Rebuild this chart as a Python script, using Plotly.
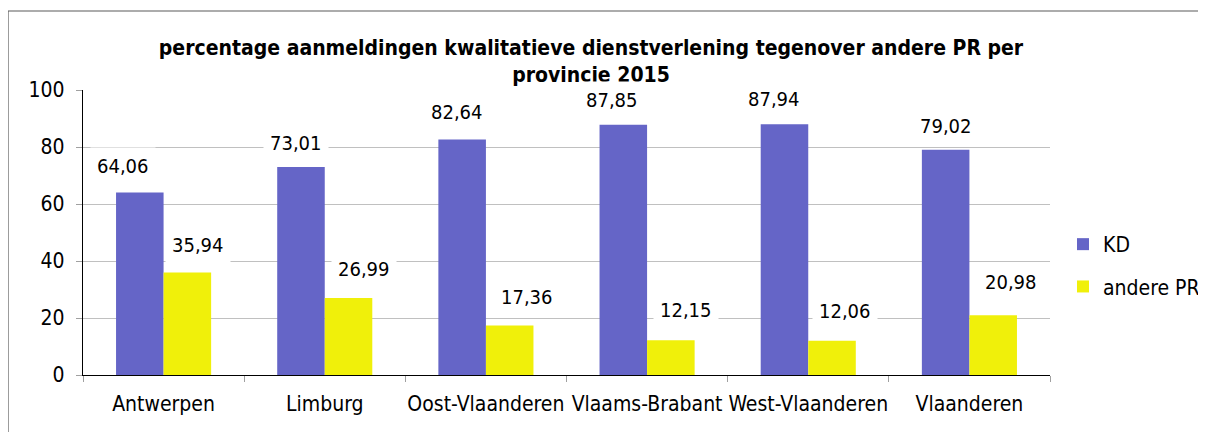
import plotly.graph_objects as go

categories = ["Antwerpen", "Limburg", "Oost-Vlaanderen", "Vlaams-Brabant", "West-Vlaanderen", "Vlaanderen"]
kd_values = [64.06, 73.01, 82.64, 87.85, 87.94, 79.02]
andere_values = [35.94, 26.99, 17.36, 12.15, 12.06, 20.98]
series_names = ["KD", "andere PR"]
y_ticks = [0, 20, 40, 60, 80, 100]
title_text = "percentage aanmeldingen kwalitatieve dienstverlening tegenover andere PR per<br>provincie 2015"

# label placement (pixel offsets from the bar top centre) - style only
kd_label_dx = [-17, -5, -5, -11, -11, 0]
kd_label_dy = [26, 24, 27, 25, 25, 24]
pr_label_dx = [11, 16, 17, 15, 13, 18]
pr_label_dy = [28, 29, 29, 30, 30, 33]
BAR_HALF = 23.7

FONT = "Tahoma, 'DejaVu Sans Condensed', 'Noto Sans', sans-serif"
BLUE = "#6565C7"
YELLOW = "#F0F00A"

# page is rendered with an 8px body margin
ML, MR, MT, MB = 75, 164, 82, 65
PW, PH = 1206 - ML - MR, 432 - MT - MB


def fmt(v):
    return f"{v:.2f}".replace(".", ",")


fig = go.Figure()
fig.add_trace(go.Bar(x=categories, y=kd_values, name=series_names[0],
                     marker=dict(color=BLUE, line=dict(width=0)), legendgroup="a"))
fig.add_trace(go.Bar(x=categories, y=andere_values, name=series_names[1],
                     marker=dict(color=YELLOW, line=dict(width=0)), legendgroup="b"))

annotations = []
for c, v, dx, dy in zip(categories, kd_values, kd_label_dx, kd_label_dy):
    annotations.append(dict(x=c, y=v, xref="x", yref="y", text=fmt(v), showarrow=False,
                            xshift=-BAR_HALF + dx, yshift=dy, yanchor="middle",
                            font=dict(family=FONT, size=20, color="black"),
                            bgcolor="white", borderpad=6))
for c, v, dx, dy in zip(categories, andere_values, pr_label_dx, pr_label_dy):
    annotations.append(dict(x=c, y=v, xref="x", yref="y", text=fmt(v), showarrow=False,
                            xshift=BAR_HALF + dx, yshift=dy, yanchor="middle",
                            font=dict(family=FONT, size=20, color="black"),
                            bgcolor="white", borderpad=6))

fig.update_layout(
    width=1206, height=432,
    margin=dict(l=ML, r=MR, t=MT, b=MB, autoexpand=False),
    paper_bgcolor="white", plot_bgcolor="white",
    barmode="group", bargap=0.41, bargroupgap=0,
    font=dict(family=FONT, size=21, color="black"),
    title=dict(text=title_text, x=583 / 1206, xanchor="center", xref="container",
               y=1 - 47 / 432, yanchor="middle", yref="container",
               font=dict(family=FONT, size=21, color="black", weight="bold")),
    showlegend=True,
    legend=dict(x=1055 / 1206, xref="container", xanchor="left",
                y=1 - 216 / 432, yref="container", yanchor="top",
                traceorder="grouped", tracegroupgap=12,
                font=dict(family=FONT, size=21, color="black"),
                bgcolor="rgba(0,0,0,0)", itemclick=False),
    annotations=annotations,
    shapes=[dict(type="rect", xref="paper", yref="paper",
                 x0=(0 - ML) / PW, x1=1.4, y0=-0.5, y1=(PH + MT - 3) / PH,
                 line=dict(color="#5a5a5a", width=1.2), fillcolor="rgba(0,0,0,0)",
                 layer="below")],
)

fig.update_yaxes(range=[0, 100], tickvals=y_ticks, showgrid=True, gridcolor="#C0C0C0", gridwidth=1,
                 showline=True, linecolor="black", linewidth=1.3,
                 ticks="outside", ticklen=6, tickcolor="#A0A0A0", ticklabelstandoff=7,
                 zeroline=False, fixedrange=True, automargin=False,
                 tickfont=dict(family=FONT, size=21, color="black"))
fig.update_xaxes(showline=True, linecolor="black", linewidth=1.3,
                 ticks="outside", ticklen=6, tickcolor="#A0A0A0", tickson="boundaries",
                 showgrid=False, fixedrange=True, ticklabelstandoff=10, tickangle=0,
                 automargin=False,
                 tickfont=dict(family=FONT, size=21, color="black"))

fig.write_html("out.html")
